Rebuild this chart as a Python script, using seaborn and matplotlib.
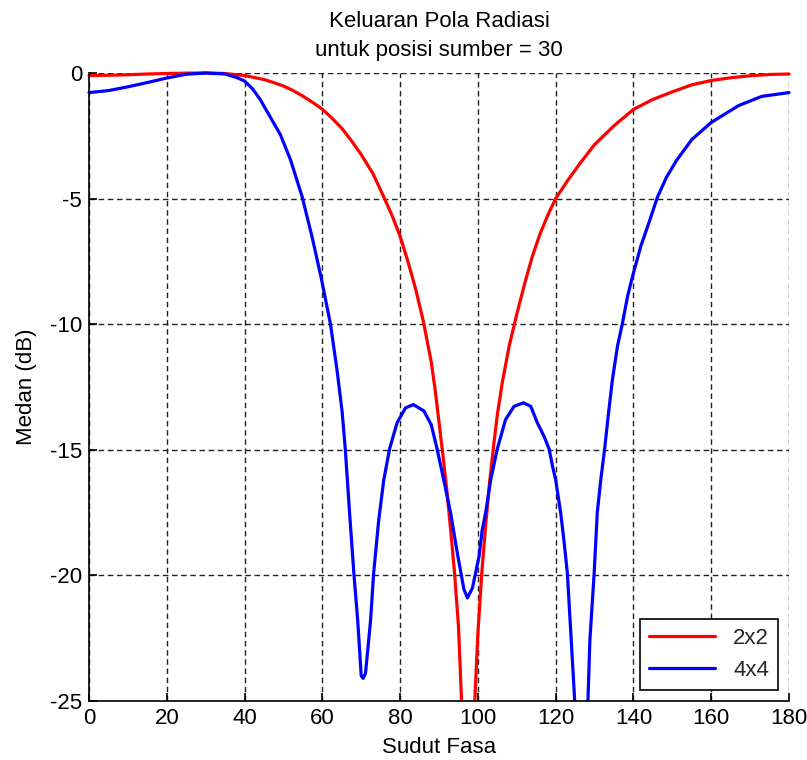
import matplotlib
matplotlib.use("Agg")
import matplotlib.pyplot as plt
from matplotlib.patches import Rectangle
import numpy as np
import pandas as pd
import seaborn as sns


# values (degrees, dB)
deg_2x2 = [0, 5, 10, 15, 20, 25, 30, 35, 40, 45,
           47.5, 50, 52.5, 55, 57.5, 60, 62.5, 65, 67.5, 70,
           73, 76, 78, 80, 82, 84, 86, 88, 89, 90,
           91, 92, 93, 94, 95, 95.8, 97.6, 99.2, 100, 101,
           102, 103, 104, 105, 106.3, 108, 110, 112, 114, 116,
           118, 120, 123, 126, 130, 135, 140, 145, 150, 155,
           160, 165, 170, 175, 180]
db_2x2 = [-0.1, -0.09, -0.07, -0.04, -0.02, -0.005, 0, -0.02, -0.1, -0.26,
          -0.38, -0.52, -0.7, -0.92, -1.17, -1.44, -1.8, -2.2, -2.7, -3.25,
          -4.0, -5.0, -5.7, -6.5, -7.5, -8.6, -9.9, -11.5, -12.6, -13.9,
          -15.2, -16.6, -18.2, -19.9, -22.0, -25.0, -40.0, -25.0, -22.3, -19.9,
          -18.0, -16.3, -14.9, -13.6, -12.3, -10.9, -9.6, -8.4, -7.3, -6.4,
          -5.65, -5.0, -4.3, -3.65, -2.85, -2.1, -1.45, -1.05, -0.75, -0.47,
          -0.3, -0.19, -0.11, -0.06, -0.04]

deg_4x4 = [0, 5, 10, 15, 20, 25, 30, 35, 38, 40,
           42, 44, 46.6, 49.2, 51.8, 54.8, 57.4, 59.7, 62.1, 63.8,
           65.1, 65.9, 67.0, 68.1, 69.1, 70.0, 70.5, 71.1, 72.4, 73.2,
           74.5, 75.8, 77.3, 79.2, 81.4, 83.4, 86.1, 88.0, 89.5, 91.2,
           93.0, 94.7, 96.4, 97.3, 98.6, 100.3, 101.1, 102.0, 103.3, 105.0,
           107.1, 109.3, 111.7, 113.6, 115.3, 117.0, 118.3, 119.2, 120.0, 121.3,
           122.2, 123.0, 124.0, 124.9, 126.6, 128.3, 128.8, 129.9, 130.7, 131.6,
           132.6, 133.5, 134.6, 135.9, 137.2, 138.5, 139.8, 141.9, 144.0, 146.2,
           148.5, 151, 155, 160, 167, 173, 180]
db_4x4 = [-0.78, -0.7, -0.55, -0.38, -0.2, -0.05, 0, -0.04, -0.18, -0.32,
          -0.62, -1.05, -1.75, -2.45, -3.45, -4.92, -6.55, -8.15, -10.0, -11.85,
          -13.5, -14.96, -17.5, -19.9, -21.8, -24.0, -24.1, -23.9, -21.8, -19.9,
          -17.8, -16.2, -14.96, -13.93, -13.33, -13.2, -13.45, -14.0, -14.96, -16.19,
          -17.52, -19.1, -20.55, -20.9, -20.5, -19.24, -18.2, -17.5, -16.19, -14.96,
          -13.8, -13.27, -13.13, -13.27, -13.93, -14.46, -14.96, -15.66, -16.19, -17.52,
          -18.71, -19.9, -22.57, -25.0, -40.0, -25.0, -22.57, -19.9, -17.5, -16.19,
          -14.96, -13.66, -12.2, -10.87, -9.94, -8.88, -8.08, -6.89, -5.95, -4.93,
          -4.15, -3.5, -2.65, -1.97, -1.3, -0.93, -0.78]

series_names = ["2x2", "4x4"]
series_colors = {"2x2": "#ff0000", "4x4": "#0000ff"}
x_ticks = [0, 20, 40, 60, 80, 100, 120, 140, 160, 180]
y_ticks = [-25, -20, -15, -10, -5, 0]

df = pd.concat([
    pd.DataFrame({"Sudut Fasa": deg_2x2, "Medan (dB)": db_2x2, "array": series_names[0]}),
    pd.DataFrame({"Sudut Fasa": deg_4x4, "Medan (dB)": db_4x4, "array": series_names[1]}),
], ignore_index=True)

sns.set_theme(style="white")
plt.rcParams["font.family"] = ["Liberation Sans", "DejaVu Sans"]
plt.rcParams["axes.unicode_minus"] = False

fig = plt.figure(figsize=(8.07, 7.6), dpi=100)
ax = fig.add_axes([89 / 807, 1 - 701 / 760, 700 / 807, 628 / 760])

sns.lineplot(
    data=df, x="Sudut Fasa", y="Medan (dB)", hue="array",
    palette=series_colors, sort=False, estimator=None,
    linewidth=2.3, ax=ax
)

ax.set_xlim(0, 180)
ax.set_ylim(-25, 0)
ax.set_xticks(x_ticks)
ax.set_yticks(y_ticks)

# lines sitting on 0 dB should not lose their top half
clip = Rectangle((-0.01, 0), 1.02, 1.008, transform=ax.transAxes)
for line in ax.lines:
    line.set_clip_path(clip)

ax.grid(True, color="#222222", linestyle=(0, (4, 2.6)), linewidth=1.0)
ax.set_axisbelow(True)
for side in ["top", "right"]:
    ax.spines[side].set_visible(False)
for side in ["left", "bottom"]:
    ax.spines[side].set_color("black")
    ax.spines[side].set_linewidth(1.2)

ax.tick_params(axis="both", direction="in", length=6, width=1.2,
               colors="black", labelsize=16, pad=5,
               bottom=True, left=True)

ax.set_xlabel("Sudut Fasa", fontsize=16, color="black", labelpad=6)
ax.set_ylabel("Medan (dB)", fontsize=16, color="black", labelpad=9)
ax.set_title("Keluaran Pola Radiasi\nuntuk posisi sumber = 30",
             fontsize=16, color="black", pad=12, linespacing=1.5)

handles, labels = ax.get_legend_handles_labels()
leg = ax.legend(handles, labels, loc="lower right", fontsize=16,
                frameon=True, fancybox=False, framealpha=1,
                edgecolor="black", handlelength=3.0, borderaxespad=0.5)
leg.get_frame().set_linewidth(1.2)

fig.savefig("out.png", dpi=100, facecolor="white")
plt.close(fig)
